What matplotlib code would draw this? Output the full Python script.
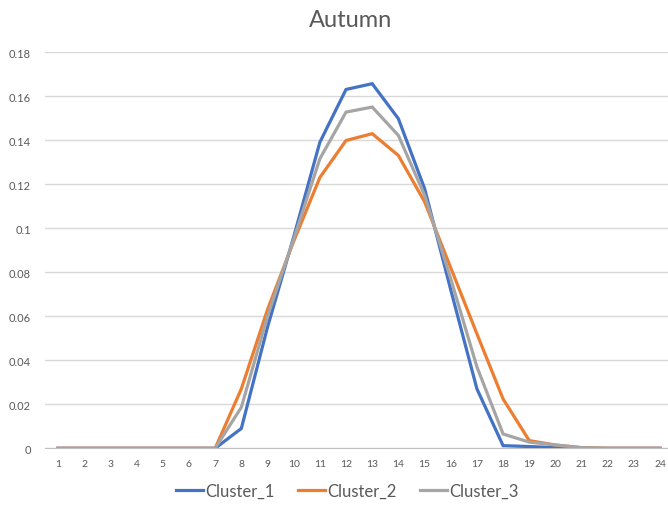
import matplotlib.pyplot as plt

hours = list(range(1, 25))
cluster_1 = [0, 0, 0, 0, 0, 0, 0, 0.009, 0.055, 0.096, 0.139, 0.163, 0.1656, 0.1497,
             0.118, 0.072, 0.027, 0.0012, 0.0008, 0.0003, 0, 0, 0, 0]
cluster_2 = [0, 0, 0, 0, 0, 0, 0, 0.027, 0.063, 0.094, 0.123, 0.1398, 0.1429, 0.133,
             0.112, 0.082, 0.052, 0.0224, 0.0035, 0.0015, 0.0003, 0, 0, 0]
cluster_3 = [0, 0, 0, 0, 0, 0, 0, 0.0186, 0.060, 0.095, 0.1315, 0.1527, 0.155, 0.1421,
             0.115, 0.077, 0.037, 0.0065, 0.0028, 0.0015, 0.0003, 0, 0, 0]
yticks = [0, 0.02, 0.04, 0.06, 0.08, 0.1, 0.12, 0.14, 0.16, 0.18]
ytick_labels = ['0', '0.02', '0.04', '0.06', '0.08', '0.1', '0.12', '0.14', '0.16', '0.18']

plt.rcParams['font.family'] = ['Lato', 'DejaVu Sans']

fig = plt.figure(figsize=(6.68, 5.10), dpi=100)
ax = fig.add_axes([45 / 668, 60.7 / 510, 623 / 668, 396.3 / 510])

ax.plot(hours, cluster_1, color='#4472C4', lw=2.3, label='Cluster_1', solid_joinstyle='miter')
ax.plot(hours, cluster_2, color='#ED7D31', lw=2.3, label='Cluster_2', solid_joinstyle='miter')
ax.plot(hours, cluster_3, color='#A5A5A5', lw=2.3, label='Cluster_3', solid_joinstyle='miter')

ax.set_xlim(0.5, 24.3)
ax.set_ylim(0, 0.18)
ax.set_xticks(hours)
ax.set_xticklabels([str(h) for h in hours], fontsize=7.5, color='#595959')
ax.set_yticks(yticks)
ax.set_yticklabels(ytick_labels, fontsize=8, color='#595959')
ax.tick_params(length=0, pad=8)
ax.tick_params(axis='y', pad=10)
ax.grid(axis='y', color='#D9D9D9', lw=1)
ax.set_axisbelow(True)
for s in ['top', 'right', 'left']:
    ax.spines[s].set_visible(False)
ax.spines['bottom'].set_color('#BFBFBF')
ax.spines['bottom'].set_zorder(0)

fig.text(0.525, 0.96, 'Autumn', ha='center', va='center', fontsize=17, color='#595959')
fig.legend(loc='center', bbox_to_anchor=(0.52, 0.035), ncol=3, frameon=False,
           fontsize=12, handlelength=1.6, handletextpad=0.15, columnspacing=1.4,
           labelcolor='#595959')

fig.savefig('out.png', dpi=100)
